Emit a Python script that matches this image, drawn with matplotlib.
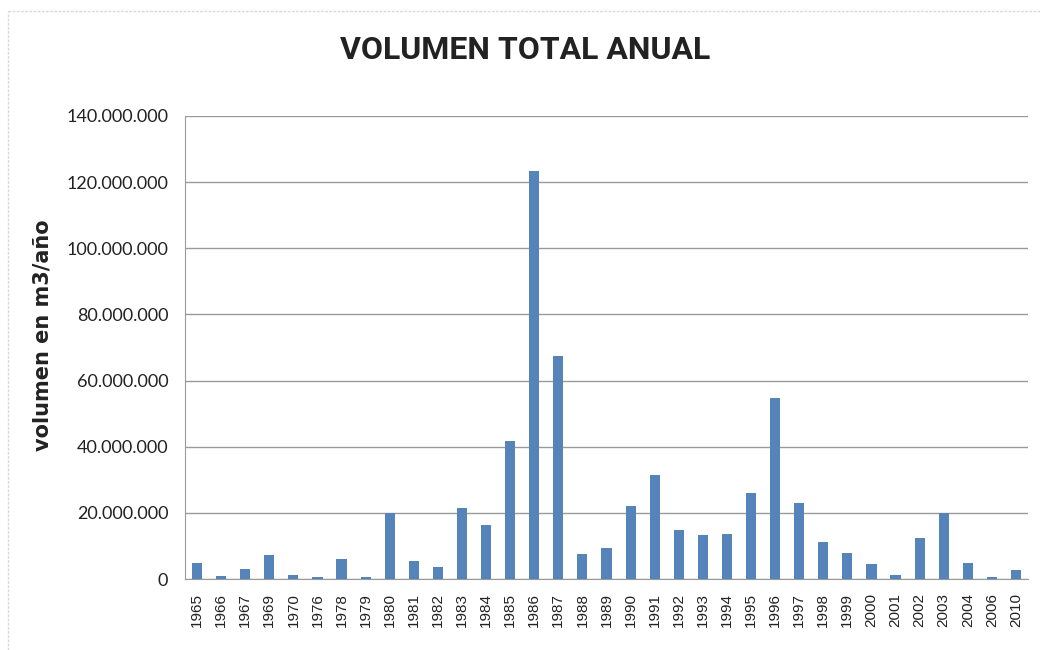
import matplotlib
matplotlib.use("Agg")
import matplotlib.pyplot as plt
from matplotlib.lines import Line2D
from matplotlib.ticker import FuncFormatter, MultipleLocator

years = ["1965", "1966", "1967", "1969", "1970", "1976", "1978", "1979", "1980",
         "1981", "1982", "1983", "1984", "1985", "1986", "1987", "1988", "1989",
         "1990", "1991", "1992", "1993", "1994", "1995", "1996", "1997", "1998",
         "1999", "2000", "2001", "2002", "2003", "2004", "2006", "2010"]
volumes = [4.9e6, 1.0e6, 3.0e6, 7.4e6, 1.1e6, 0.6e6, 6.0e6, 0.6e6, 20.0e6,
           5.5e6, 3.6e6, 21.5e6, 16.2e6, 41.6e6, 123.4e6, 67.3e6, 7.5e6, 9.3e6,
           22.1e6, 31.3e6, 14.7e6, 13.2e6, 13.7e6, 26.0e6, 54.7e6, 23.1e6, 11.3e6,
           8.0e6, 4.4e6, 1.1e6, 12.3e6, 20.0e6, 4.9e6, 0.6e6, 2.6e6]

title = "VOLUMEN TOTAL ANUAL"
ylabel = "volumen en m3/año"

fig = plt.figure(figsize=(10.4, 6.5), dpi=100)
ax = fig.add_axes([185/1040, 1 - 579/650, (1028-185)/1040, (579-116)/650])

x = list(range(len(years)))
ax.bar(x, volumes, width=0.42, color="#5584bb", zorder=3)

ax.set_xlim(-0.5, len(years) - 0.5)
ax.set_ylim(0, 140e6)
ax.yaxis.set_major_locator(MultipleLocator(20e6))

def fmt(v, pos):
    return f"{int(round(v)):,}".replace(",", ".")

ax.yaxis.set_major_formatter(FuncFormatter(fmt))
ax.set_xticks(x)
ax.set_xticklabels(years, rotation=90, fontsize=11, family="Liberation Sans", color="#222222")
for lab in ax.get_yticklabels():
    lab.set_family("Lato")
    lab.set_fontsize(13)
    lab.set_color("#222222")

ax.grid(axis="y", color="#9a9a9a", linewidth=1.0, zorder=0)
for s in ["top", "right"]:
    ax.spines[s].set_visible(False)
ax.spines["left"].set_color("#9a9a9a")
ax.spines["bottom"].set_color("#9a9a9a")
ax.tick_params(axis="y", length=0, pad=12)
ax.tick_params(axis="x", length=0, pad=10)

fig.text(43/1040, 1 - 335/650, ylabel, rotation=90, ha="center", va="center",
         fontsize=15, fontweight="bold", family="DejaVu Sans", color="#222222")
fig.text(525/1040, 1 - 50/650, title, ha="center", va="center",
         fontsize=23, fontweight="bold", family="Roboto", color="#222222")

# faint outer frame (top and left edges)
fig.add_artist(Line2D([8/1040, 1], [1 - 11/650, 1 - 11/650], color="#d8d8e4",
                      linewidth=1, linestyle=(0, (2, 1)), transform=fig.transFigure))
fig.add_artist(Line2D([8/1040, 8/1040], [0, 1 - 11/650], color="#d8d8e4",
                      linewidth=1, linestyle=(0, (2, 1)), transform=fig.transFigure))

fig.savefig("out.png", dpi=100)
